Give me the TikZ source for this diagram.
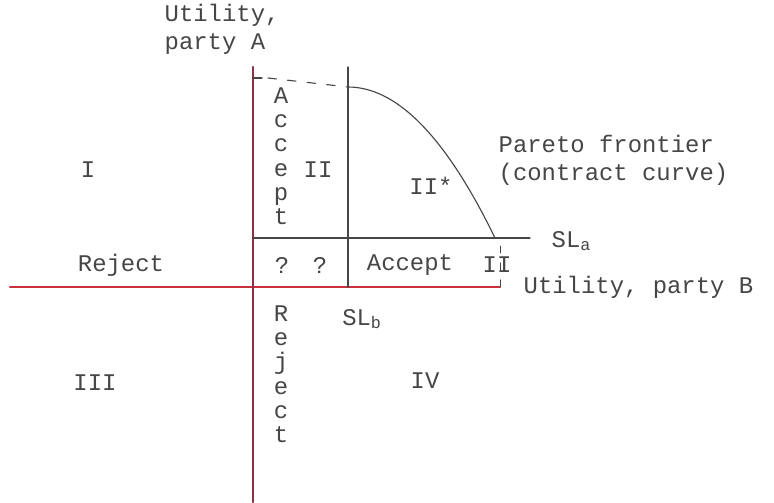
\documentclass[tikz,border=0pt]{standalone}
\usepackage{fontspec}
\newfontfamily\tw{Liberation Mono}
\usepackage[dvipsnames]{xcolor}
\definecolor{axA}{RGB}{140,50,70}
\definecolor{axB}{RGB}{200,50,60}
\definecolor{ink}{RGB}{70,70,70}

\begin{document}
\begin{tikzpicture}[x=0.025cm, y=-0.025cm, line cap=round, line join=round,
    lbl/.style={font=\tw\fontsize{17}{20}\selectfont, text=ink, inner sep=1pt},
    stack/.style={lbl, align=center, font=\tw\fontsize{17}{17.2}\selectfont}]

  \useasboundingbox (0,0) rectangle (774,502);

  % axes
  \coordinate (O)  at (253,287);
  \coordinate (yt) at (253,67);
  \coordinate (yb) at (253,502);
  \coordinate (xl) at (10,287);
  \coordinate (xr) at (500,287);
  \draw[axB, line width=1.6pt] (xl) -- (xr);
  \draw[axA, line width=1.6pt] (yt) -- (yb);

  % security levels
  \coordinate (sla) at (530,238);
  \coordinate (slb) at (348,67);
  \draw[ink, thick] (O |- sla) -- (sla);
  \draw[ink, thick] (slb) -- (slb |- O);

  % pareto frontier
  \coordinate (pf0) at (348,87);
  \coordinate (pf1) at (495,238);
  \draw[ink, thick] (pf0) .. controls (397,87) and (446,137) .. (pf1);
  \draw[ink, thick] (253,78) -- (262,78);
  \draw[ink, thick, dash pattern=on 6pt off 8pt] (268,78) -- (pf0);
  \draw[ink, semithick, dash pattern=on 5pt off 7pt] (500,246) -- (500,287);

  % labels
  \node[lbl, align=left, anchor=north west] (uA) at (163,2) {Utility,\\party A};
  \node[lbl, anchor=west] (uB) at (522,287) {Utility, party B};
  \node[lbl, anchor=west] (SLa) at (550,241) {SL\textsubscript{a}};
  \node[lbl] (SLb) at (362,319) {SL\textsubscript{b}};
  \node[lbl, align=left, anchor=west] (par) at (497,160) {Pareto frontier\\(contract curve)};

  \node[stack, anchor=north] (acc) at (281,86) {A\\c\\c\\e\\p\\t};
  \node[stack, anchor=north] (rej) at (281,304) {R\\e\\j\\e\\c\\t};

  \node[lbl] (rI)   at (88,170)  {I};
  \node[lbl] (rII)  at (318,170) {II};
  \node[lbl] (rIIs) at (431,186) {II*};
  \node[lbl] (rej2) at (121,265) {Reject};
  \node[lbl] (q1)   at (282,265) {?};
  \node[lbl] (q2)   at (320,265) {?};
  \node[lbl] (acc2) at (410,265) {Accept};
  \node[lbl] (rII2) at (497,265) {II};
  \node[lbl] (rIII) at (95,383)  {III};
  \node[lbl] (rIV)  at (425,381) {IV};
\end{tikzpicture}
\end{document}
